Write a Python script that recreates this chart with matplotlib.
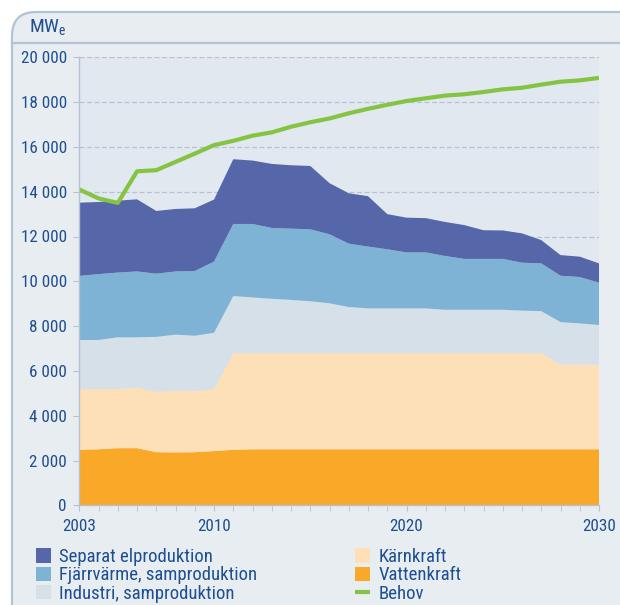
import matplotlib
matplotlib.use('Agg')
from matplotlib import pyplot as plt
from matplotlib.patches import FancyBboxPatch
from matplotlib.lines import Line2D
from matplotlib.transforms import Affine2D

years = list(range(2003, 2031))
vatten = [2480, 2500, 2550, 2550, 2370, 2360, 2370, 2420, 2480] + [2500] * 19
karn = [2700, 2690, 2650, 2700, 2700, 2750, 2740, 2760, 4310] + [4290] * 16 + [3780] * 3
industri = [2200, 2190, 2300, 2250, 2450, 2510, 2460, 2520, 2550, 2490, 2430, 2380, 2320, 2230,
            2060, 2000, 2000, 2000, 2000, 1940, 1940, 1940, 1940, 1900, 1880, 1900, 1840, 1770]
fjarr = [2860, 2940, 2890, 2940, 2820, 2820, 2890, 3180, 3220, 3280, 3160, 3180, 3210, 3080,
         2830, 2760, 2640, 2500, 2500, 2400, 2270, 2270, 2270, 2140, 2130, 2070, 2070, 1890]
separat = [3270, 3220, 3210, 3220, 2800, 2790, 2800, 2770, 2890, 2830, 2860, 2830, 2830, 2280,
           2250, 2250, 1570, 1550, 1530, 1520, 1510, 1280, 1270, 1310, 1040, 920, 910, 860]
behov = [14100, 13700, 13500, 14910, 14960, 15330, 15700, 16080, 16270, 16500, 16650, 16900,
         17100, 17270, 17500, 17700, 17880, 18050, 18170, 18290, 18350, 18450, 18570, 18640,
         18780, 18910, 18970, 19080]

labels = ['Vattenkraft', 'Kärnkraft', 'Industri, samproduktion',
          'Fjärrvärme, samproduktion', 'Separat elproduktion']
colors = ['#f9a828', '#fde0b8', '#d5e0e8', '#7fb3d5', '#5567a8']
txt = '#1d4f91'

plt.rcParams['font.family'] = ['Roboto Condensed', 'DejaVu Sans']

fig = plt.figure(figsize=(6.2, 6.05), dpi=100)
fig.patch.set_facecolor('white')
px = Affine2D().scale(1 / 620, -1 / 605).translate(0, 1) + fig.transFigure

# outer panel
fig.add_artist(FancyBboxPatch((12, 12), 640, 640, boxstyle='round,pad=0,rounding_size=24',
                              transform=px, facecolor='#e8edf2', edgecolor='#b3c3d3', lw=1.6,
                              zorder=-5))
fig.add_artist(Line2D([12, 620], [43, 43], transform=px, color='#b3c3d3', lw=1.6, zorder=-4))
fig.text(29 / 620, 1 - 28 / 605, 'MW$_\\mathregular{e}$', color=txt, fontsize=14, va='center',
         ha='left')

ax = fig.add_axes([79.3 / 620, 1 - 505.3 / 605, 519.7 / 620, 448 / 605])
ax.set_facecolor('#e1e8f0')
polys = ax.stackplot(years, vatten, karn, industri, fjarr, separat, colors=colors,
                     labels=labels, lw=0)
line, = ax.plot(years, behov, color='#85c442', lw=3, label='Behov', solid_capstyle='butt')

ax.set_xlim(2003, 2030)
ax.set_ylim(0, 20000)
ax.set_yticks(range(0, 20001, 2000))
ax.set_yticklabels(['0' if v == 0 else f'{v // 1000} 000' for v in range(0, 20001, 2000)])
ax.set_xticks(years, minor=True)
ax.set_xticks([2003, 2010, 2020, 2030])
ax.grid(axis='y', color='#b5c2cf', ls=(0, (4, 2)), lw=0.9)
ax.set_axisbelow(True)
for s in ['top', 'right']:
    ax.spines[s].set_visible(False)
for s in ['left', 'bottom']:
    ax.spines[s].set_color('#b3c3d3')
    ax.spines[s].set_linewidth(1.0)
ax.tick_params(axis='both', which='both', colors='#b3c3d3', labelcolor=txt, labelsize=12.3)
ax.tick_params(axis='y', length=4, pad=5)
ax.tick_params(axis='x', which='both', length=4, pad=6)

leg_kw = dict(loc='upper left', frameon=False, fontsize=13.5, handlelength=0.8,
              handleheight=0.8, handletextpad=0.45, labelspacing=0.02, borderaxespad=0,
              borderpad=0, labelcolor=txt)
leg1 = fig.legend([polys[4], polys[3], polys[2]],
                  ['Separat elproduktion', 'Fjärrvärme, samproduktion', 'Industri, samproduktion'],
                  bbox_to_anchor=(36 / 620, 1 - 548 / 605), **leg_kw)
leg2 = fig.legend([polys[1], polys[0], line], ['Kärnkraft', 'Vattenkraft', 'Behov'],
                  bbox_to_anchor=(355 / 620, 1 - 548 / 605), **leg_kw)

fig.savefig('out.png', dpi=100)
